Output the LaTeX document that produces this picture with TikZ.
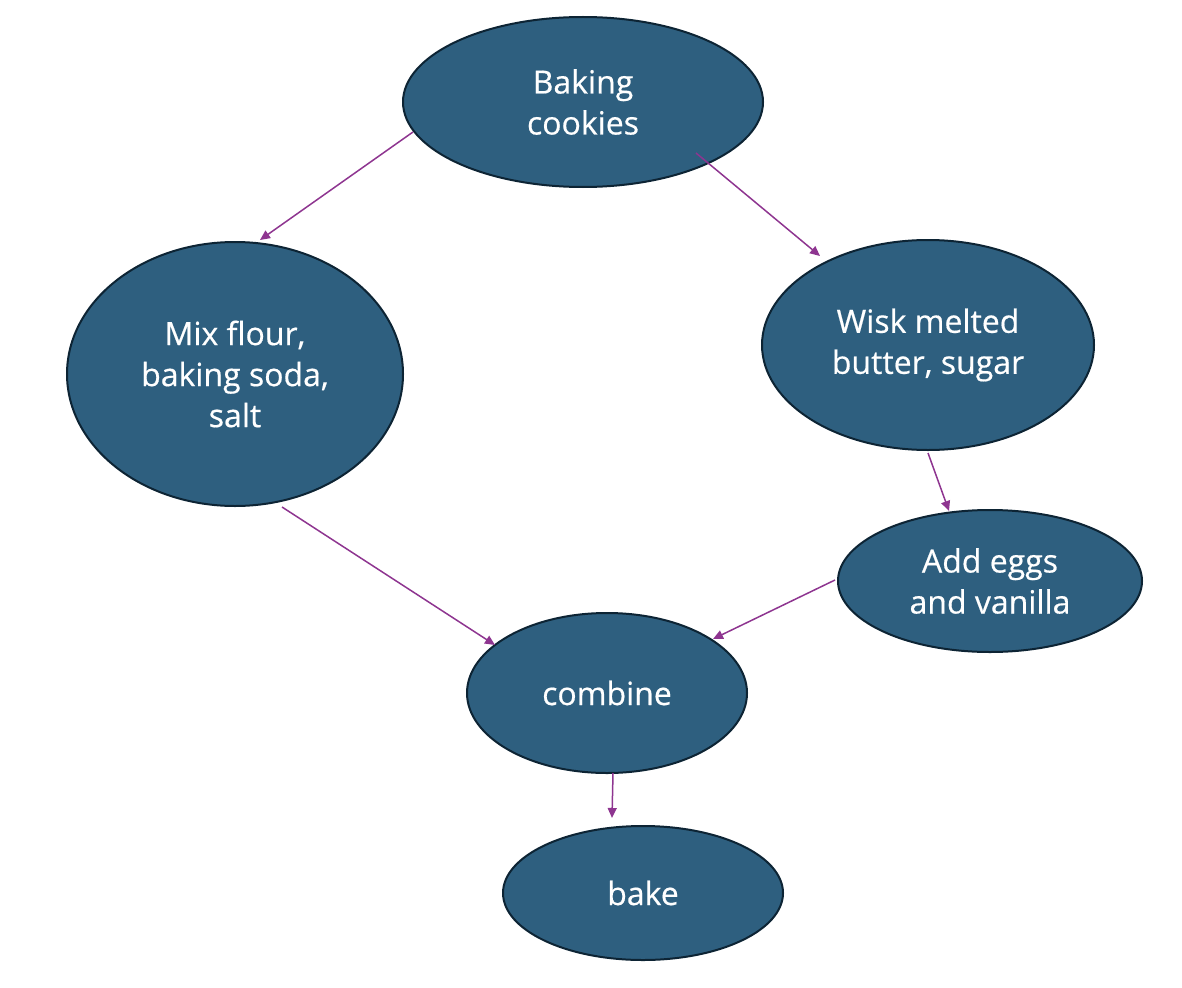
\documentclass[tikz,border=0pt]{standalone}
\usepackage{fontspec}
\setmainfont{Open Sans}
\newfontfamily\labelfont[FakeBold=0.5]{Open Sans}
\usetikzlibrary{shapes.geometric,arrows.meta,calc}
\definecolor{nodefill}{HTML}{2E5F7F}
\definecolor{nodeedge}{HTML}{0D2434}
\definecolor{arrowcol}{HTML}{8E3590}
\begin{document}
\begin{tikzpicture}[x=1pt,y=-1pt,
  blob/.style={ellipse,draw=nodeedge,line width=2pt,fill=nodefill,text=white,
    inner sep=0pt,align=center,font=\labelfont\fontsize{32}{41}\selectfont},
  link/.style={draw=arrowcol,line width=1.5pt,-{Triangle[length=10pt,width=9pt]}}]
\useasboundingbox (0,0) rectangle (1182,987);
\node[blob,minimum width=360pt,minimum height=170pt] (top) at (583,102) {Baking\\cookies};
\node[blob,minimum width=336pt,minimum height=264pt] (mix) at (235,374) {Mix flour,\\baking soda,\\salt};
\node[blob,minimum width=332pt,minimum height=210pt] (wisk) at (928,345) {Wisk melted\\butter, sugar};
\node[blob,minimum width=304pt,minimum height=142pt] (eggs) at (990,581) {Add eggs\\and vanilla};
\node[blob,minimum width=280pt,minimum height=160pt] (combine) at (607,693) {combine};
\node[blob,minimum width=280pt,minimum height=134pt] (bake) at (643,893) {bake};
\draw[link] ($(top.center)+(-170,30)$) -- ($(mix.center)+(25,-134)$);
\draw[link] ($(top.center)+(113,51)$) -- ($(wisk.center)+(-108,-89)$);
\draw[link] ($(mix.center)+(47,133)$) -- ($(combine.center)+(-112,-48)$);
\draw[link] ($(wisk.center)+(0,108)$) -- ($(eggs.center)+(-41,-70)$);
\draw[link] ($(eggs.center)+(-155,-1)$) -- ($(combine.center)+(106,-54)$);
\draw[link] ($(combine.center)+(6,80)$) -- ($(bake.center)+(-31,-75)$);
\end{tikzpicture}
\end{document}
